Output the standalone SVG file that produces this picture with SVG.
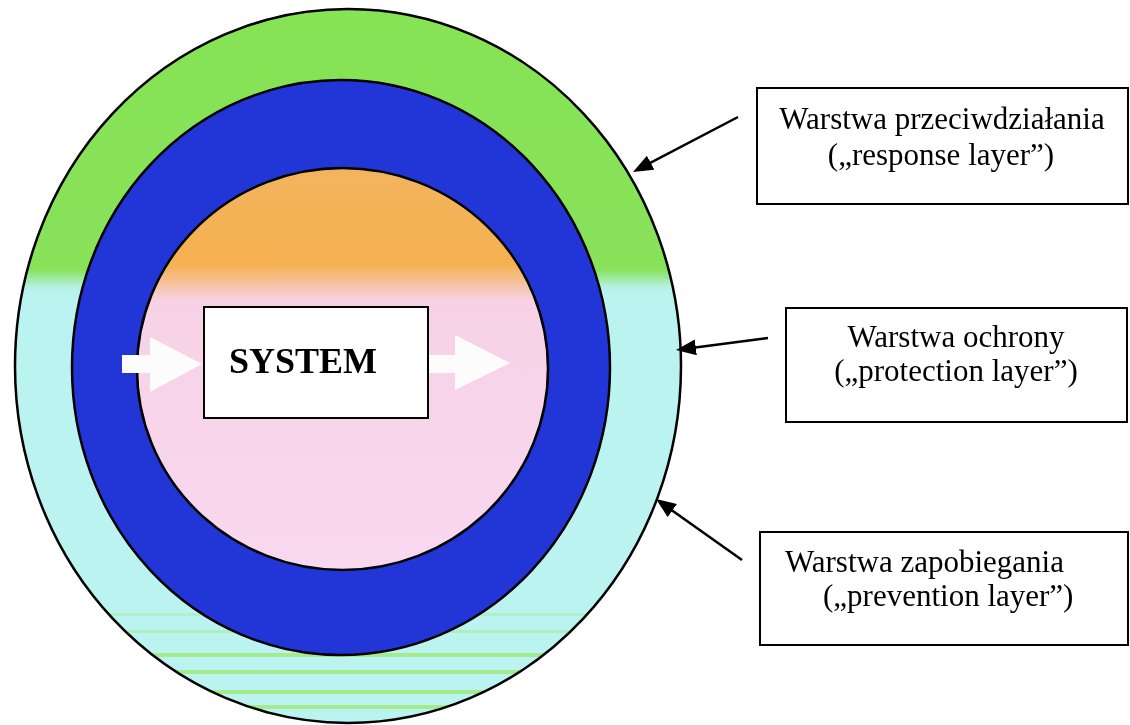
<svg xmlns="http://www.w3.org/2000/svg" width="1130" height="725" viewBox="0 0 1130 725">
  <defs>
    <style>
      .ring { stroke: #000; stroke-width: 2.5; }
      .box { fill: #fff; stroke: #000; stroke-width: 2; }
      .label { font-family: "Liberation Serif", "Times New Roman", serif; font-size: 31px; fill: #000; }
      .title { font-family: "Liberation Serif", "Times New Roman", serif; font-size: 36px; font-weight: bold; fill: #000; }
      .conn { stroke: #000; stroke-width: 2.5; fill: none; marker-end: url(#head); }
      .flow { fill: #fcfcfc; }
    </style>
    <linearGradient id="outerFill" gradientUnits="userSpaceOnUse" x1="0" y1="9" x2="0" y2="723">
      <stop offset="0" stop-color="#86e354"/>
      <stop offset="0.365" stop-color="#88e25a"/>
      <stop offset="0.39" stop-color="#b6f1e6"/>
      <stop offset="0.40" stop-color="#baf3f0"/>
      <stop offset="1" stop-color="#baf3f0"/>
    </linearGradient>
    <linearGradient id="innerFill" gradientUnits="userSpaceOnUse" x1="0" y1="168" x2="0" y2="570">
      <stop offset="0" stop-color="#f3b45e"/>
      <stop offset="0.24" stop-color="#f5b050"/>
      <stop offset="0.33" stop-color="#f7d2e6"/>
      <stop offset="1" stop-color="#f8d8f0"/>
    </linearGradient>
    <clipPath id="outerClip">
      <ellipse cx="348" cy="366" rx="333" ry="357"/>
    </clipPath>
    <marker id="head" viewBox="0 0 20 16" refX="14" refY="8" markerWidth="20" markerHeight="16" markerUnits="userSpaceOnUse" orient="auto">
      <path d="M0,0 L20,8 L0,16 z" fill="#000"/>
    </marker>
  </defs>

  <!-- concentric layers -->
  <g id="prevention-layer">
    <ellipse cx="348" cy="366" rx="333" ry="357" fill="url(#outerFill)"/>
    <g clip-path="url(#outerClip)" fill="#9fea7a" opacity="0.85">
      <rect x="0" y="613" width="700" height="3" opacity="0.4"/>
      <rect x="0" y="630" width="700" height="3" opacity="0.5"/>
      <rect x="0" y="653" width="700" height="4"/>
      <rect x="0" y="670" width="700" height="4"/>
      <rect x="0" y="690" width="700" height="4"/>
      <rect x="0" y="705" width="700" height="4"/>
    </g>
    <ellipse class="ring" cx="348" cy="366" rx="333" ry="357" fill="none"/>
  </g>

  <g id="response-layer">
    <ellipse class="ring" cx="341" cy="367.5" rx="269" ry="287.5" fill="#2236d8"/>
  </g>

  <g id="protection-layer">
    <ellipse class="ring" cx="342.5" cy="369" rx="205.5" ry="201" fill="url(#innerFill)"/>
  </g>

  <!-- input and output flows -->
  <g id="flow-in">
    <path class="flow" d="M122,355 L150,355 L150,337 L202,364 L150,392 L150,373 L122,373 z"/>
  </g>
  <g id="flow-out">
    <path class="flow" d="M428,355 L455,355 L455,335 L510,363 L455,390 L455,373 L428,373 z"/>
  </g>

  <g id="system">
    <rect class="box" x="204" y="307" width="224" height="111"/>
    <text class="title" x="303" y="373" text-anchor="middle">SYSTEM</text>
  </g>

  <!-- layer labels -->
  <g id="label-response">
    <rect class="box" x="757" y="88" width="371" height="116"/>
    <text class="label" x="942" y="129" text-anchor="middle">Warstwa przeciwdziałania</text>
    <text class="label" x="941" y="165" text-anchor="middle">(„response layer”)</text>
  </g>

  <g id="label-protection">
    <rect class="box" x="786" y="308" width="341" height="114"/>
    <text class="label" x="956" y="347" text-anchor="middle">Warstwa ochrony</text>
    <text class="label" x="956" y="381" text-anchor="middle">(„protection layer”)</text>
  </g>

  <g id="label-prevention">
    <rect class="box" x="760" y="532" width="368" height="113"/>
    <text class="label" x="785" y="572">Warstwa zapobiegania</text>
    <text class="label" x="823" y="606">(„prevention layer”)</text>
  </g>

  <g id="connectors">
    <line class="conn" x1="738" y1="117" x2="638.3" y2="169.2"/>
    <line class="conn" x1="768" y1="338" x2="681.9" y2="349.2"/>
    <line class="conn" x1="742" y1="560" x2="660.9" y2="502.5"/>
  </g>
</svg>
